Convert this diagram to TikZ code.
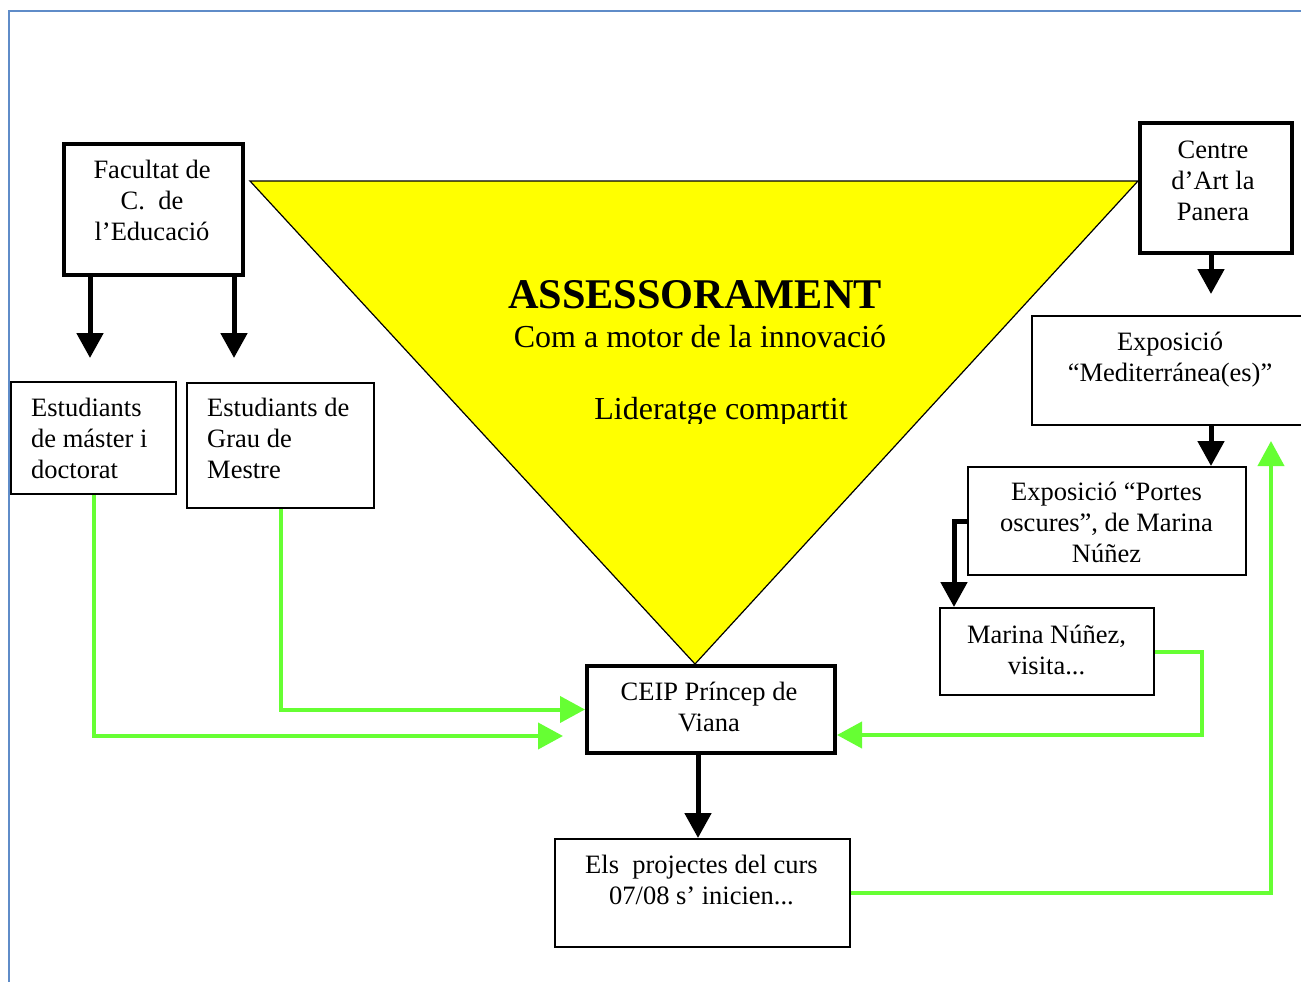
\documentclass[tikz,border=0pt]{standalone}
\usepackage{fontspec}
\setmainfont{Liberation Serif}
\usetikzlibrary{arrows.meta}
\definecolor{frameblue}{RGB}{95,140,200}
\definecolor{arrgreen}{RGB}{102,255,51}
\definecolor{triyellow}{RGB}{255,255,0}
\begin{document}
\begin{tikzpicture}[x=1pt,y=-1pt,
  box/.style={draw=black,line width=2pt,inner sep=0pt,anchor=north west,fill=white},
  thickbox/.style={box,line width=4pt},
  txt/.style={inner sep=0pt,anchor=base,align=center,font=\fontsize{26.5}{30.8}\selectfont},
  ltxt/.style={inner sep=0pt,anchor=base west,align=left,font=\fontsize{26.5}{30.8}\selectfont},
  blackarrow/.style={draw=black,line width=5pt,-{Triangle[width=26pt,length=25pt]}},
  greenarrow/.style={draw=arrgreen,line width=4pt,-{Triangle[width=26pt,length=25pt]}}]
\useasboundingbox (0,0) rectangle (1301,982);
\fill[white] (0,0) rectangle (1301,982);
% frame
\draw[frameblue,line width=2.5pt] (9,982) -- (9,11) -- (1301,11);
% triangle
\draw[fill=triyellow,line width=1.2pt,line join=miter] (250,181) -- (1138,181) -- (695,664) -- cycle;
\node[inner sep=0pt,anchor=base,font=\bfseries\fontsize{42.3}{44}\selectfont] (title) at (695,308) {ASSESSORAMENT};
\node[inner sep=0pt,anchor=base,font=\fontsize{32}{36}\selectfont] (sub) at (700,347) {Com a motor de la innovació};
\begin{scope}
\clip (450,370) rectangle (950,423);
\node[inner sep=0pt,anchor=base,font=\fontsize{32}{36}\selectfont] (lid) at (721,419) {Lideratge compartit};
\end{scope}
% boxes
\node[thickbox,minimum width=179pt,minimum height=131pt] (fac) at (62,142) {};
\node[box,minimum width=165pt,minimum height=112pt] (mas) at (10,381) {};
\node[box,minimum width=187pt,minimum height=125pt] (grau) at (186,382) {};
\node[thickbox,minimum width=152pt,minimum height=130pt] (cen) at (1138,121) {};
\node[box,minimum width=280pt,minimum height=109pt] (med) at (1031,315) {};
\node[box,minimum width=278pt,minimum height=108pt] (por) at (967,466) {};
\node[box,minimum width=214pt,minimum height=87pt] (mar) at (939,607) {};
\node[thickbox,minimum width=248pt,minimum height=87pt] (ceip) at (585,664) {};
\node[box,minimum width=295pt,minimum height=108pt] (els) at (554,838) {};
% texts (anchor base = baseline of the last line)
\node[txt] (facT) at (152,240) {Facultat de\\C.~~de\\l’Educació};
\node[ltxt] (masT) at (31,478) {Estudiants\\de máster i\\doctorat};
\node[ltxt] (grauT) at (207,478) {Estudiants de\\Grau de\\Mestre};
\node[txt] (cenT) at (1213,220) {Centre\\d’Art la\\Panera};
\node[txt] (medT) at (1170,381.5) {Exposició\\“Mediterránea(es)”};
\node[txt] (porT) at (1106.5,562) {Exposició “Portes\\oscures”, de Marina\\Núñez};
\node[txt] (marT) at (1046.5,674) {Marina Núñez,\\visita...};
\node[txt] (ceipT) at (709,731.5) {CEIP Príncep de\\Viana};
\node[txt] (elsT) at (701.5,904) {Els~~projectes del curs\\07/08 s’ inicien...};
% black arrows
\coordinate (masIn) at (90,358);
\coordinate (grauIn) at (234,358);
\coordinate (medIn) at (1211,294);
\coordinate (porIn) at (1211,466);
\coordinate (marIn) at (954,607);
\coordinate (elsIn) at (698,838);
\draw[blackarrow] (fac.south -| masIn) -- (masIn);
\draw[blackarrow] (fac.south -| grauIn) -- (grauIn);
\draw[blackarrow] (cen.south -| medIn) -- (medIn);
\draw[blackarrow] (med.south -| porIn) -- (porIn);
\draw[blackarrow] (por.west) -| (marIn);
\draw[blackarrow] (ceip.south -| elsIn) -- (elsIn);
% green arrows
\coordinate (g1) at (563,736);
\coordinate (gr1) at (1202,735);
\coordinate (gr2) at (1271,441);
\draw[greenarrow] (mas.south) |- (g1);
\draw[greenarrow] (grau.south) |- (ceip.west);
\draw[greenarrow] (mar.east) -| (gr1) -- (ceip.east |- gr1);
\draw[greenarrow] (els.east) -| (gr2);
\end{tikzpicture}
\end{document}
